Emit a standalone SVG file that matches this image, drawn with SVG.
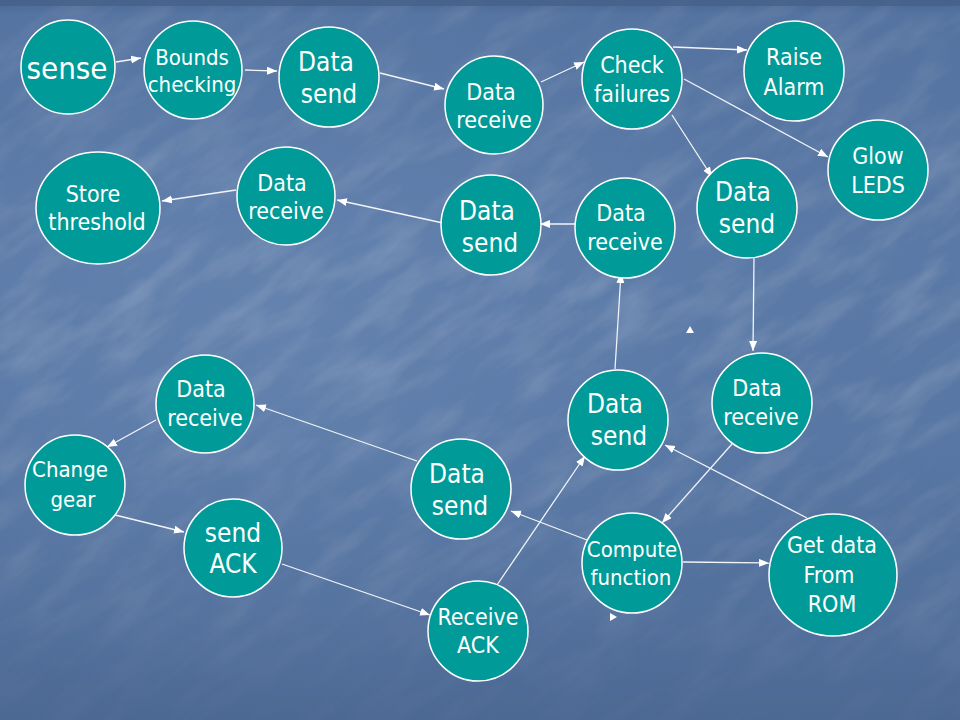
<svg xmlns="http://www.w3.org/2000/svg" width="960" height="720" viewBox="0 0 960 720">
<defs>
<linearGradient id="bg" x1="0" y1="0" x2="0" y2="1">
<stop offset="0" stop-color="#4a6792"/>
<stop offset="0.02" stop-color="#5473a0"/>
<stop offset="0.35" stop-color="#5a79a6"/>
<stop offset="0.6" stop-color="#5877a4"/>
<stop offset="0.85" stop-color="#52709c"/>
<stop offset="1" stop-color="#4c6994"/>
</linearGradient>
<radialGradient id="glow" cx="0.3" cy="0.45" r="0.55">
<stop offset="0" stop-color="#7a98c2" stop-opacity="0.3"/>
<stop offset="1" stop-color="#7a98c2" stop-opacity="0"/>
</radialGradient>
<linearGradient id="fade" x1="0" y1="0" x2="0" y2="1">
<stop offset="0" stop-color="#fff" stop-opacity="0.6"/>
<stop offset="0.4" stop-color="#fff" stop-opacity="1"/>
<stop offset="0.75" stop-color="#fff" stop-opacity="0.7"/>
<stop offset="1" stop-color="#fff" stop-opacity="0.15"/>
</linearGradient>
<mask id="m"><rect width="960" height="720" fill="url(#fade)"/></mask>
<filter id="tex" x="0" y="0" width="1" height="1">
<feTurbulence type="fractalNoise" baseFrequency="0.012 0.04" numOctaves="4" seed="7"/>
<feColorMatrix type="matrix" values="0 0 0 0 1  0 0 0 0 1  0 0 0 0 1  0 0 0 -2 1.2"/>
<feComponentTransfer><feFuncA type="linear" slope="0.16"/></feComponentTransfer>
</filter>
<marker id="ah" markerUnits="userSpaceOnUse" markerWidth="12" markerHeight="10" refX="10" refY="4" orient="auto">
<path d="M0,0 L10,4 L0,8 Z" fill="#ffffff"/>
</marker>
</defs>
<style>
.n{fill:#009b98;stroke:#ffffff;stroke-width:1.5}
.t{fill:#ffffff;font-family:"DejaVu Sans Condensed","Liberation Sans",sans-serif;text-anchor:middle}
.c line{stroke:#f2f4f8;stroke-width:1.3;marker-end:url(#ah)}
</style>
<rect width="960" height="720" fill="url(#bg)"/>
<rect width="960" height="720" fill="url(#glow)"/>
<g mask="url(#m)">
<g transform="rotate(-35 480 360)">
<rect x="-300" y="-300" width="1560" height="1320" filter="url(#tex)"/>
</g>
</g>
<rect x="0" y="0" width="960" height="6" fill="#45618b" opacity="0.8"/>

<g class="c" id="connectors">
<line x1="116" y1="62" x2="141" y2="58"/>
<line x1="245" y1="70" x2="277" y2="71"/>
<line x1="380" y1="73" x2="444" y2="89"/>
<line x1="541" y1="82" x2="584" y2="62"/>
<line x1="673" y1="47" x2="747" y2="50"/>
<line x1="684" y1="79" x2="828" y2="157"/>
<line x1="672" y1="115" x2="712" y2="177"/>
<line x1="575" y1="224" x2="540" y2="224"/>
<line x1="443" y1="223" x2="337" y2="200"/>
<line x1="236" y1="190" x2="162" y2="201"/>
<line x1="754" y1="257" x2="753" y2="351"/>
<line x1="615" y1="369" x2="621" y2="273"/>
<line x1="732" y1="444" x2="662" y2="523"/>
<line x1="807" y1="518" x2="665" y2="445"/>
<line x1="683" y1="562" x2="769" y2="563"/>
<line x1="587" y1="540" x2="511" y2="511"/>
<line x1="497" y1="585" x2="585" y2="456"/>
<line x1="417" y1="461" x2="256" y2="405"/>
<line x1="156" y1="420" x2="107" y2="447"/>
<line x1="107" y1="513" x2="184" y2="532"/>
<line x1="282" y1="564" x2="430" y2="615"/>
<path d="M690,326 L694,333 L686,333 Z" fill="#ffffff"/>
<path d="M610,613 L617,617 L610,621 Z" fill="#ffffff"/>
</g>

<g id="sense"><circle class="n" cx="68" cy="67" r="47"/><text class="t" x="67" y="79" font-size="31">sense</text></g>
<g id="bounds"><circle class="n" cx="193" cy="70" r="49"/><text class="t" font-size="22"><tspan x="192" y="65">Bounds</tspan><tspan x="192" y="92">checking</tspan></text></g>
<g id="send1"><circle class="n" cx="329" cy="77" r="50"/><text class="t" font-size="26"><tspan x="326" y="71">Data</tspan><tspan x="329" y="103">send</tspan></text></g>
<g id="recv1"><circle class="n" cx="494" cy="105" r="49"/><text class="t" font-size="23"><tspan x="491" y="100">Data</tspan><tspan x="494" y="128">receive</tspan></text></g>
<g id="check"><circle class="n" cx="632" cy="79" r="50"/><text class="t" font-size="23"><tspan x="632" y="73">Check</tspan><tspan x="632" y="102">failures</tspan></text></g>
<g id="alarm"><circle class="n" cx="794" cy="71" r="50"/><text class="t" font-size="23"><tspan x="794" y="65">Raise</tspan><tspan x="794" y="95">Alarm</tspan></text></g>
<g id="leds"><circle class="n" cx="878" cy="170" r="50"/><text class="t" font-size="23"><tspan x="878" y="164">Glow</tspan><tspan x="878" y="193">LEDS</tspan></text></g>
<g id="send2"><circle class="n" cx="747" cy="208" r="50"/><text class="t" font-size="26"><tspan x="743" y="201">Data</tspan><tspan x="747" y="233">send</tspan></text></g>
<g id="recv2"><circle class="n" cx="625" cy="228" r="50"/><text class="t" font-size="23"><tspan x="621" y="221">Data</tspan><tspan x="625" y="250">receive</tspan></text></g>
<g id="send3"><circle class="n" cx="491" cy="225" r="50"/><text class="t" font-size="26"><tspan x="487" y="220">Data</tspan><tspan x="490" y="252">send</tspan></text></g>
<g id="recv3"><circle class="n" cx="286" cy="196" r="49"/><text class="t" font-size="23"><tspan x="282" y="191">Data</tspan><tspan x="286" y="219">receive</tspan></text></g>
<g id="store"><ellipse class="n" cx="98" cy="208" rx="62" ry="56"/><text class="t" font-size="23"><tspan x="93" y="202">Store</tspan><tspan x="97" y="230">threshold</tspan></text></g>
<g id="recv4"><circle class="n" cx="205" cy="404" r="49"/><text class="t" font-size="23"><tspan x="201" y="397">Data</tspan><tspan x="205" y="426">receive</tspan></text></g>
<g id="gear"><circle class="n" cx="75" cy="485" r="50"/><text class="t" font-size="22"><tspan x="70" y="477">Change</tspan><tspan x="73" y="507">gear</tspan></text></g>
<g id="sendack"><circle class="n" cx="233" cy="548" r="49"/><text class="t" font-size="26"><tspan x="233" y="542">send</tspan><tspan x="233" y="573">ACK</tspan></text></g>
<g id="send4"><circle class="n" cx="461" cy="489" r="50"/><text class="t" font-size="26"><tspan x="457" y="483">Data</tspan><tspan x="460" y="515">send</tspan></text></g>
<g id="recvack"><circle class="n" cx="478" cy="631" r="50"/><text class="t" font-size="23"><tspan x="478" y="625">Receive</tspan><tspan x="478" y="653">ACK</tspan></text></g>
<g id="send5"><circle class="n" cx="618" cy="420" r="50"/><text class="t" font-size="26"><tspan x="615" y="413">Data</tspan><tspan x="619" y="445">send</tspan></text></g>
<g id="recv5"><circle class="n" cx="762" cy="403" r="50"/><text class="t" font-size="23"><tspan x="757" y="396">Data</tspan><tspan x="761" y="425">receive</tspan></text></g>
<g id="compute"><circle class="n" cx="632" cy="563" r="50"/><text class="t" font-size="22"><tspan x="632" y="557">Compute</tspan><tspan x="631" y="585">function</tspan></text></g>
<g id="rom"><ellipse class="n" cx="833" cy="575" rx="64" ry="61"/><text class="t" font-size="23"><tspan x="832" y="553">Get data</tspan><tspan x="829" y="583">From</tspan><tspan x="832" y="612">ROM</tspan></text></g>
</svg>
